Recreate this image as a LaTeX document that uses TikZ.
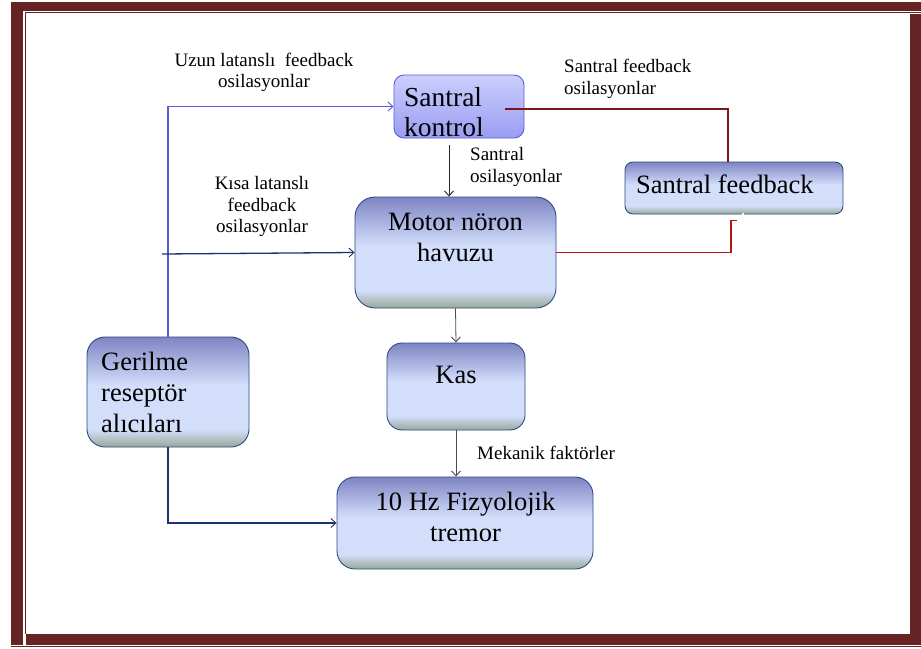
\documentclass[tikz,border=0pt]{standalone}
\usepackage{fontspec}
\setmainfont{Liberation Serif}
\usepackage{tikz}
\usetikzlibrary{arrows.meta,positioning}
\definecolor{Frame}{HTML}{652323}
\definecolor{Edge}{HTML}{2C4A86}
\definecolor{LineBlue}{HTML}{5B5BD6}
\definecolor{LineNavy}{HTML}{1C3270}
\definecolor{LineRed}{HTML}{B01818}
\definecolor{LineDark}{HTML}{7A1818}
\definecolor{ShadeTop}{HTML}{7E85C3}
\definecolor{ShadeMid}{HTML}{D3DEFB}
\definecolor{ShadeBot}{HTML}{98A996}
\definecolor{CtrlTop}{HTML}{CBCEFD}
\definecolor{CtrlBot}{HTML}{9A9DF2}
\pgfdeclareverticalshading{boxshade}{100bp}{color(0bp)=(ShadeBot); color(25bp)=(ShadeBot); color(33bp)=(ShadeMid); color(53bp)=(ShadeMid); color(75bp)=(ShadeTop); color(100bp)=(ShadeTop)}
\pgfdeclareverticalshading{ctrlshade}{100bp}{color(0bp)=(CtrlBot); color(25bp)=(CtrlBot); color(75bp)=(CtrlTop); color(100bp)=(CtrlTop)}
\tikzset{
>={Straight Barb[length=5pt,width=9pt,line width=0.9pt]},
box/.style= {rectangle, draw=Edge, line width=0.9pt, shading=boxshade},
ctrlbox/.style= {rectangle, draw=LineBlue, line width=0.9pt, shading=ctrlshade, rounded corners=10pt},
bigtxt/.style= {inner sep=0pt, font=\fontsize{26.5}{31}\selectfont},
smalltxt/.style= {inner sep=0pt, font=\fontsize{19}{21.5}\selectfont},
thinarrow/.style= {->, draw=black!70, line width=0.8pt},
blueline/.style= {->, draw=LineBlue, line width=1.3pt},
navyline/.style= {->, draw=LineNavy, line width=1.3pt},
redline/.style= {line width=1.4pt}
}

\begin{document}
\begin{tikzpicture}[x=1pt, y=-1pt]
    \useasboundingbox (0,0) rectangle (921,648);
    % double frame
    \fill[Frame] (11,2) rectangle (921,11);
    \fill[Frame] (11,2) rectangle (23,645);
    \fill[Frame] (910,14) rectangle (921,645);
    \fill[Frame] (26,634) rectangle (921,645);
    \draw[Frame, line width=1.2pt] (25.5,634) -- (25.5,12.5) -- (921,12.5);
    \draw[Frame, line width=1pt] (11,646.5) -- (921,646.5);

    % boxes
    \node[ctrlbox, minimum width=130pt, minimum height=63pt] (kontrol) at (459,106.5) {};
    \node[box, rounded corners=20pt, minimum width=201pt, minimum height=111pt] (motor) at (455.5,252.5) {};
    \node[box, rounded corners=8pt, minimum width=218pt, minimum height=52pt] (feedback) at (734,188) {};
    \node[box, rounded corners=18pt, minimum width=162pt, minimum height=110pt] (gerilme) at (168,392) {};
    \node[box, rounded corners=15pt, minimum width=138pt, minimum height=87pt] (kas) at (456,386.5) {};
    \node[box, rounded corners=18pt, minimum width=256pt, minimum height=92pt] (tremor) at (465,523) {};

    % box texts
    \node[bigtxt, align=left, anchor=west, font=\fontsize{27.5}{30}\selectfont] (kontroltxt) at (404,112) {Santral\\kontrol};
    \node[bigtxt, align=center] (motortxt) at (455.5,237) {Motor nöron\\havuzu};
    \node[bigtxt, anchor=west] (feedbacktxt) at (636,184.5) {Santral feedback};
    \node[bigtxt, align=left, anchor=west] (gerilmetxt) at (101,392.5) {Gerilme\\reseptör\\alıcıları};
    \node[bigtxt] (kastxt) at (456,375) {Kas};
    \node[bigtxt, align=center] (tremortxt) at (465.5,517) {10 Hz Fizyolojik\\tremor};

    % connector labels
    \node[smalltxt, align=center] (uzunlbl) at (264,72.5) {Uzun latanslı\ \ feedback\\osilasyonlar};
    \node[smalltxt, align=center] (kisalbl) at (262,206.5) {Kısa latanslı\\feedback\\osilasyonlar};
    \node[smalltxt, align=left, anchor=west] (sfblbl) at (564,79) {Santral feedback\\osilasyonlar};
    \node[smalltxt, align=left, anchor=west] (sosclbl) at (470,167) {Santral\\osilasyonlar};
    \node[smalltxt, anchor=west] (meklbl) at (477,453) {Mekanik faktörler};

    % connectors
    \coordinate (kin) at (162,254);
    \coordinate (sk) at ([xshift=46pt,yshift=-2.5pt]kontrol.center);
    \draw[blueline] (gerilme.north) |- (kontrol.west);
    \draw[navyline] (kin) -- (motor.west);
    \draw[navyline] (gerilme.south) |- (tremor.west);
    \draw[thinarrow, draw=black!85] ([xshift=-10pt,yshift=-7pt]kontrol.south) -- ([xshift=-10pt]kontrol.south |- motor.north);
    \draw[thinarrow] (motor.south) -- (kas.north);
    \draw[thinarrow] (kas.south) -- (kas.south |- tremor.north);
    \draw[redline, LineDark] (sk) -| ([xshift=-6pt]feedback.north);
    \draw[redline, LineRed] (motor.east) -| ([xshift=-3pt,yshift=-6pt]feedback.south) -- ++(6,0);
    \draw[white, line width=1.5pt] ([xshift=9pt,yshift=1pt]feedback.south) -- ++(0,4);
\end{tikzpicture}
\end{document}
